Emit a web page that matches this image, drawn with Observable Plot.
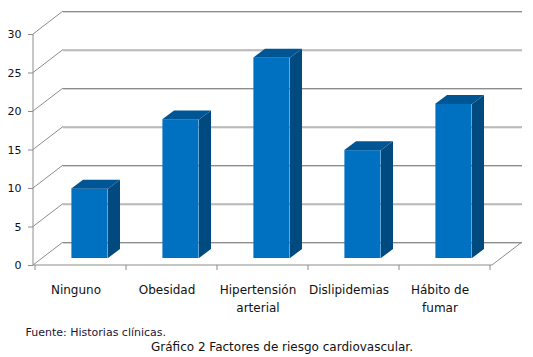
<!DOCTYPE html>
<html>
<head>
<meta charset="utf-8">
<script src="https://cdn.jsdelivr.net/npm/d3@7"></script>
<script src="https://cdn.jsdelivr.net/npm/@observablehq/plot@0.6"></script>
<style>
  body { margin: 0; background: #fff; }
  svg { display: block; }
</style>
</head>
<body>
<div id="chart"></div>
<script>
// Data
const categories = ["Ninguno", "Obesidad", "Hipertensión arterial", "Dislipidemias", "Hábito de fumar"];
const categoryLabels = ["Ninguno", "Obesidad", "Hipertensión\narterial", "Dislipidemias", "Hábito de\nfumar"];
const values = [9, 18, 26, 14, 20];
const yTicks = [0, 5, 10, 15, 20, 25, 30];
const captionText = ["Fuente: Historias clínicas."];
const titleText = ["Gráfico 2 Factores de riesgo cardiovascular."];

const data = categories.map((c, i) => ({cat: c, label: categoryLabels[i], value: values[i]}));

// 3D pseudo-perspective offsets (pixels)
const WALL = [30, -23];   // depth of back wall
const BOFF = [9, -7];     // front face offset of bars
const BDEP = [12, -9];    // bar depth
const BAR_W = 37;         // bar front face width

const FRONT = "#0070c0", SIDE = "#004a80", TOP = "#005695", GRID = "#8c8c8c";

function bw(x) {
  return typeof x.bandwidth === "function" ? x.bandwidth() : (x(categories[1]) - x(categories[0]));
}

// Walls: diagonals, axis lines, floor edges, x ticks
function walls(index, scales, vals, dims) {
  const x = scales.x, y = scales.y;
  const g = d3.create("svg:g").attr("fill", "none").attr("stroke", GRID);
  const x0 = dims.marginLeft, x1 = dims.width - dims.marginRight;
  for (const t of yTicks) {
    const yy = y(t);
    g.append("line").attr("x1", x0).attr("y1", yy).attr("x2", x0 + WALL[0]).attr("y2", yy + WALL[1]);
  }
  // left front axis line
  g.append("line").attr("x1", x0).attr("x2", x0).attr("y1", y(30)).attr("y2", y(0));
  // front floor line
  g.append("line").attr("x1", x0).attr("x2", x1).attr("y1", y(0)).attr("y2", y(0));
  // right floor diagonal
  g.append("line").attr("x1", x1).attr("y1", y(0)).attr("x2", x1 + WALL[0]).attr("y2", y(0) + WALL[1]);
  // x ticks at band edges
  const b = bw(x);
  const edges = categories.map(c => x(c)).concat([x(categories[categories.length - 1]) + b]);
  for (const e of edges) {
    g.append("line").attr("x1", e).attr("x2", e).attr("y1", y(0)).attr("y2", y(0) + 5);
  }
  return g.node();
}

// Bar side and top faces
function barFaces(index, scales, vals, dims) {
  const x = scales.x, y = scales.y;
  const b = bw(x);
  const g = d3.create("svg:g");
  data.forEach(d => {
    const L = x(d.cat) + (b - BAR_W) / 2 + BOFF[0];
    const R = L + BAR_W;
    const yv = y(d.value) + BOFF[1];
    const y0 = y(0) + BOFF[1];
    const side = [[R, y0], [R, yv], [R + BDEP[0], yv + BDEP[1]], [R + BDEP[0], y0 + BDEP[1]]];
    const top = [[L, yv], [R, yv], [R + BDEP[0], yv + BDEP[1]], [L + BDEP[0], yv + BDEP[1]]];
    g.append("polygon").attr("points", side.map(p => p.join(",")).join(" ")).attr("fill", SIDE);
    g.append("polygon").attr("points", top.map(p => p.join(",")).join(" ")).attr("fill", TOP);
  });
  return g.node();
}

const chart = Plot.plot({
  width: 533,
  height: 357,
  marginLeft: 33,
  marginRight: 41,
  marginTop: 34,
  marginBottom: 92,
  style: {fontFamily: "DejaVu Sans, Verdana, sans-serif", background: "#fff", color: "#111"},
  x: {domain: categories, padding: 0, axis: null},
  y: {domain: [0, 30], axis: null},
  marks: [
    // back wall gridlines (light shadow + dark line)
    Plot.ruleY(yTicks, {dx: WALL[0], dy: WALL[1] + 1, stroke: "#d4d4d4"}),
    Plot.ruleY(yTicks, {dx: WALL[0], dy: WALL[1], stroke: GRID}),
    walls,
    Plot.barY(data, {x: "cat", y: "value", fill: FRONT, insetLeft: 27.4, insetRight: 27.4, dx: BOFF[0], dy: BOFF[1]}),
    barFaces,
    Plot.axisY({ticks: yTicks, tickSize: 5, tickPadding: 7, fontSize: 11, stroke: GRID, label: null, tickFormat: d => String(d)}),
    Plot.text(data, {x: "cat", text: "label", frameAnchor: "bottom", lineAnchor: "top", dy: 15.5, dx: -5, fontSize: 12, lineHeight: 1.5, fill: "#111"}),
    Plot.text(captionText, {frameAnchor: "bottom-left", textAnchor: "start", lineAnchor: "middle", dx: -8, dy: 66.5, fontSize: 11, fill: "#1c1433"}),
    Plot.text(titleText, {frameAnchor: "bottom", lineAnchor: "middle", dx: 19, dy: 82, fontSize: 12, fill: "#111"})
  ]
});
document.getElementById("chart").appendChild(chart);
</script>
</body>
</html>
